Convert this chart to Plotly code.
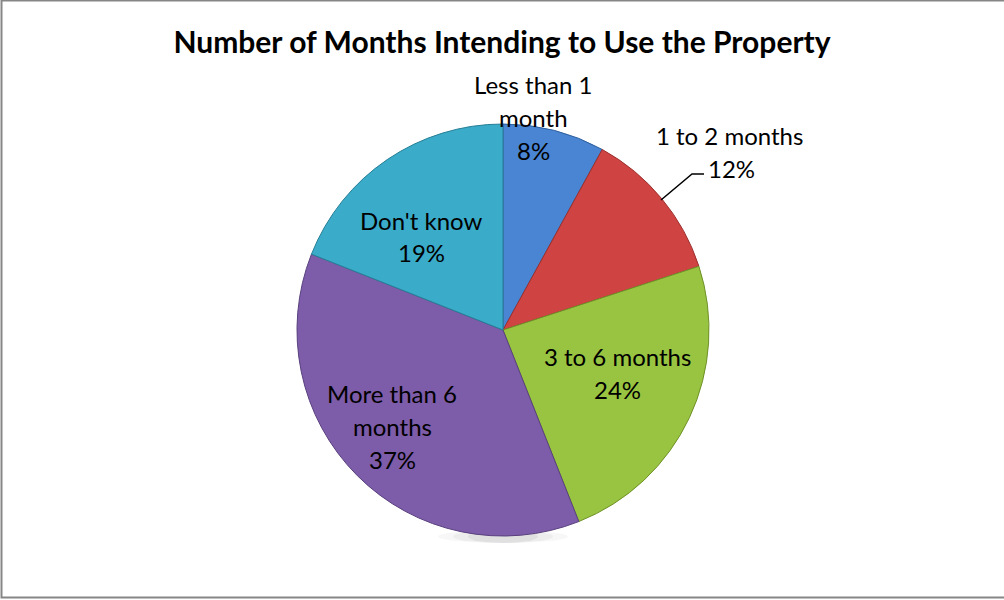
import plotly.graph_objects as go

# data
categories = ["Less than 1 month", "1 to 2 months", "3 to 6 months", "More than 6 months", "Don't know"]
shares = [8, 12, 24, 37, 19]
label_lines = [["Less than 1", "month"], ["1 to 2 months"], ["3 to 6 months"], ["More than 6", "months"], ["Don't know"]]
colors = ["#4A85D3", "#CF4442", "#99C441", "#7D5CA9", "#3AABC9"]
edge_colors = ["#2F5F9E", "#9B2F2D", "#6F9128", "#59407E", "#267F96"]

W, H = 1004, 600
CX, CY, R = 503, 330, 206
FONT = "Lato, 'Open Sans', sans-serif"

fig = go.Figure()

# soft shadow under pie
for k, a in enumerate([0.03, 0.04, 0.05]):
    hw = 65 - k * 15
    fig.add_shape(type="circle", xref="paper", yref="paper",
                  x0=(CX - hw) / W, x1=(CX + hw) / W,
                  y0=1 - (CY + R + 7) / H, y1=1 - (CY + R - 6) / H,
                  fillcolor="rgba(0,0,0,%.2f)" % a, line=dict(width=0), layer="below")

fig.add_trace(go.Pie(
    labels=categories,
    values=shares,
    sort=False,
    direction="clockwise",
    rotation=0,
    marker=dict(colors=colors, line=dict(color=edge_colors, width=1)),
    textinfo="none",
    hoverinfo="label+percent",
    showlegend=False,
    domain=dict(x=[(CX - R) / W, (CX + R) / W], y=[1 - (CY + R) / H, 1 - (CY - R) / H]),
))

# label anchor (pixel) for each slice, line spacing in px
label_pos = [(533, 84), (729, 135), (617, 356), (392, 393), (421, 220)]
LS = 33

for i, (name, val) in enumerate(zip(categories, shares)):
    lines = label_lines[i] + ["%d%%" % val]
    x0, y0 = label_pos[i]
    for j, ln in enumerate(lines):
        x = x0
        if i == 1 and j == 1:
            x = 731
        fig.add_annotation(x=x / W, y=1 - (y0 + j * LS) / H, xref="paper", yref="paper",
                           text=ln, showarrow=False, xanchor="center", yanchor="middle",
                           font=dict(family=FONT, size=24, color="#000000"))

# leader line for the 1 to 2 months label
fig.add_shape(type="path", xref="paper", yref="paper",
              path="M %f %f L %f %f L %f %f" % (661 / W, 1 - 200 / H, 692 / W, 1 - 174 / H, 704 / W, 1 - 174 / H),
              line=dict(color="#000000", width=1.5))

# outer border
fig.add_shape(type="rect", xref="paper", yref="paper", x0=1.5 / W, x1=1.2, y0=1 - 597.5 / H, y1=1 - 0.5 / H,
              line=dict(color="#868686", width=2))

fig.update_layout(
    title=dict(text="<b>Number of Months Intending to Use the Property</b>", x=0.5, xanchor="center",
               y=1 - 42 / H, yanchor="middle", font=dict(family=FONT, size=30, color="#000000")),
    width=W, height=H,
    margin=dict(l=0, r=0, t=0, b=0),
    paper_bgcolor="white",
    plot_bgcolor="white",
)

fig.write_html("out.html", config={"displayModeBar": False},
               post_script="document.body.style.margin='0';")
